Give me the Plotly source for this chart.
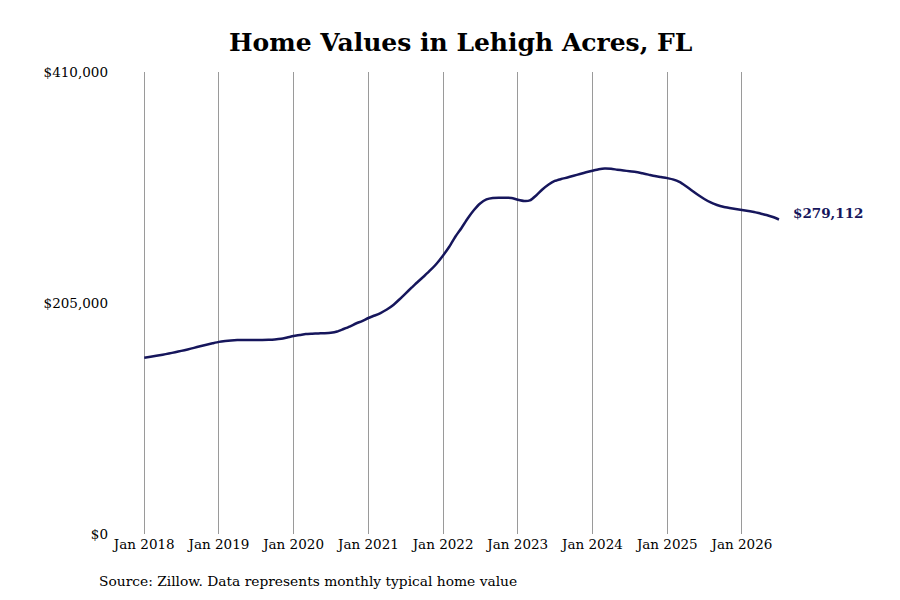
import pandas as pd
import plotly.graph_objects as go

# monthly typical home value, Jan 2018 .. Jul 2026
START_MONTH = "2018-01-01"
home_values = [
    156500, 157300, 158100, 159100, 160200, 161300, 162500, 163800, 165200, 166600, 167900, 169200,  # 2018
    170500, 171300, 171800, 172100, 172200, 172200, 172200, 172200, 172300, 172600, 173200, 174400,  # 2019
    175700, 176600, 177500, 177800, 178000, 178200, 178600, 179700, 181900, 184100, 186800, 189000,  # 2020
    191700, 193900, 196100, 199200, 203000, 208100, 213400, 218800, 224100, 229000, 234300, 240100,  # 2021
    247200, 255100, 263600, 271600, 280000, 287500, 293300, 296900, 298200, 298400, 298400, 298200,  # 2022
    296600, 295500, 296000, 300400, 305700, 310200, 313300, 315000, 316400, 317900, 319500, 321000,  # 2023
    322400, 323700, 324400, 324100, 323300, 322600, 321900, 321300, 320100, 318900, 317700, 316800,  # 2024
    315800, 314500, 312400, 308800, 304800, 300800, 297300, 294200, 292000, 290400, 289300, 288400,  # 2025
    287500, 286600, 285800, 284400, 283100, 281300, 279112,  # 2026
]
y_ticks = [0, 205000, 410000]
y_tick_labels = ["$0", "$205,000", "$410,000"]
x_tick_years = list(range(2018, 2027))

TITLE = "Home Values in Lehigh Acres, FL"
SOURCE = "Source: Zillow. Data represents monthly typical home value"
NAVY = "#16165c"
FONT = "DejaVu Serif"

dates = pd.date_range(START_MONTH, periods=len(home_values), freq="MS")
df = pd.DataFrame({"Date": dates, "Value": home_values})

fig = go.Figure()
fig.add_trace(
    go.Scatter(
        x=df["Date"],
        y=df["Value"],
        mode="lines",
        line=dict(color=NAVY, width=2.5, shape="spline", smoothing=0.6),
        hoverinfo="skip",
        showlegend=False,
    )
)

last = df.iloc[-1]
fig.add_annotation(
    x=last["Date"],
    y=last["Value"],
    text=f"<b>${last['Value']:,.0f}</b>",
    showarrow=False,
    xanchor="left",
    yanchor="middle",
    xshift=12,
    yshift=6,
    font=dict(family=FONT, size=13.5, color=NAVY),
)
fig.add_annotation(
    x=-0.024,
    y=-0.102,
    xref="paper",
    yref="paper",
    text=SOURCE,
    showarrow=False,
    xanchor="left",
    yanchor="middle",
    font=dict(family=FONT, size=13.8, color="black"),
)

fig.update_xaxes(
    range=["2017-08-11", "2027-09-19"],
    tickvals=[pd.Timestamp(f"{y}-01-01") for y in x_tick_years],
    ticktext=[f"Jan {y}" for y in x_tick_years],
    showgrid=True,
    gridcolor="#9a9a9a",
    gridwidth=1,
    zeroline=False,
    showline=False,
    tickfont=dict(family=FONT, size=13.5, color="black"),
)
fig.update_yaxes(
    range=[0, 410000],
    tickvals=y_ticks,
    ticktext=y_tick_labels,
    showgrid=False,
    zeroline=False,
    showline=False,
    ticklabelstandoff=6,
    tickfont=dict(family=FONT, size=13.5, color="black"),
)
# the page body adds an 8px offset, so margins are shifted up/left by 8px
fig.update_layout(
    width=900,
    height=600,
    plot_bgcolor="white",
    paper_bgcolor="white",
    margin=dict(l=107, r=38, t=64, b=74),
    title=dict(
        text=f"<b>{TITLE}</b>",
        x=0.503,
        xanchor="center",
        y=1 - 34 / 600,
        yanchor="middle",
        yref="container",
        font=dict(family=FONT, size=25, color="black"),
    ),
)

fig.write_html("out.html")
